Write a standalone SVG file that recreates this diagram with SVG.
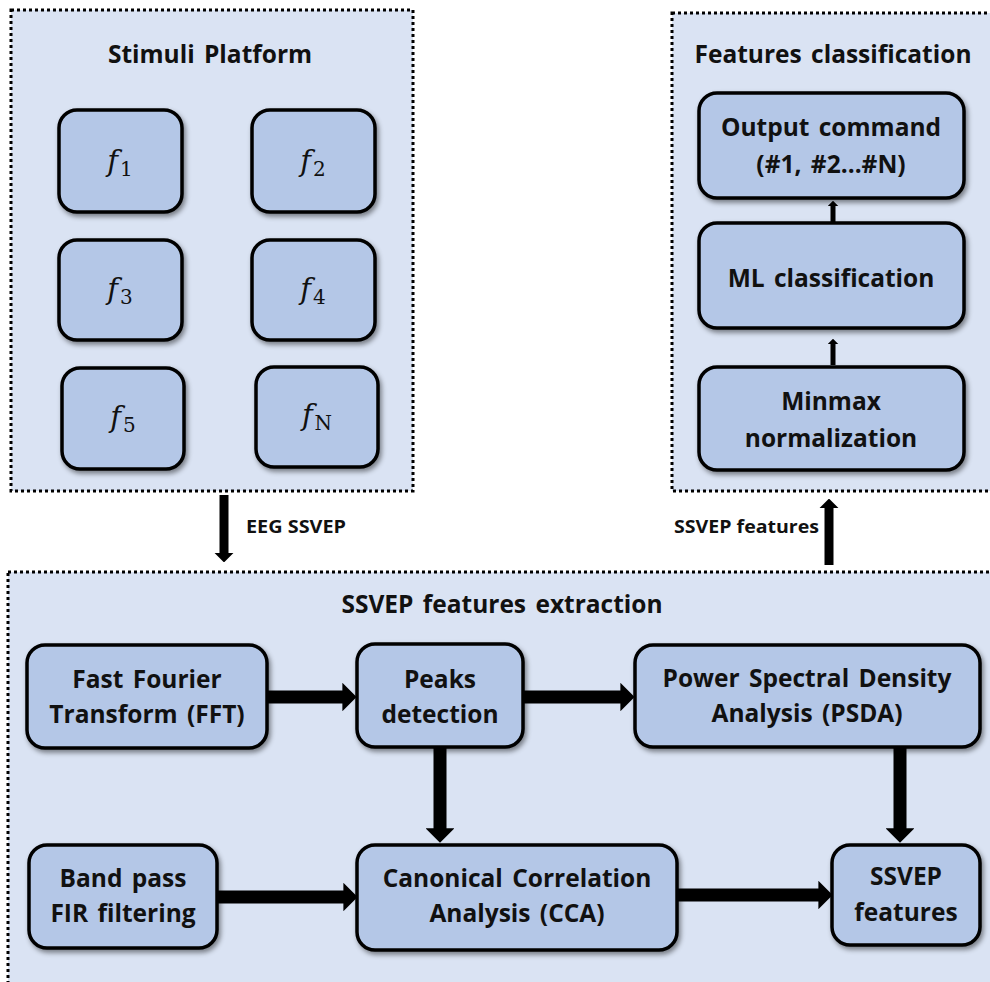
<svg xmlns="http://www.w3.org/2000/svg" width="990" height="982" viewBox="0 0 990 982">
<style>
.panel{fill:#dae3f3;stroke:#000;stroke-width:3;stroke-dasharray:3 3}
.box{fill:#b4c7e7;stroke:#000;stroke-width:3.5;filter:url(#sh)}
.t{font-family:"Open Sans","Noto Sans","Liberation Sans",sans-serif;font-weight:bold;font-size:24.5px;fill:#111;text-anchor:middle;word-spacing:3px}
.lbl{font-family:"Open Sans","Liberation Sans",sans-serif;font-weight:bold;font-size:17px;fill:#111}
.fm{font-family:"DejaVu Serif","Liberation Serif",serif;font-size:29px;fill:#111;text-anchor:middle}
.fs{font-style:normal;font-size:20px}
.c{fill:none;stroke:#000;marker-end:url(#ah)}
</style>
<defs>
<filter id="sh" x="-10%" y="-10%" width="125%" height="130%">
<feDropShadow dx="2" dy="3" stdDeviation="2.5" flood-color="#000" flood-opacity="0.45"/>
</filter>
<marker id="ah" viewBox="0 0 11 22" markerUnits="strokeWidth" markerWidth="1.1" markerHeight="2.2" refX="0.5" refY="11" orient="auto">
<path d="M0,0 L11,11 L0,22 z" fill="#000"/>
</marker>
</defs>

<g id="stimuli-platform">
<rect class="panel" x="11" y="10" width="402" height="481"/>
<text class="t" x="210" y="63">Stimuli Platform</text>
</g>
<g id="features-classification">
<rect class="panel" x="672" y="13" width="330" height="478"/>
<text class="t" x="833" y="63">Features classification</text>
</g>
<g id="ssvep-extraction">
<rect class="panel" x="8" y="572" width="995" height="420"/>
<text class="t" x="502" y="613">SSVEP features extraction</text>
</g>

<g id="f1"><rect class="box" x="59" y="110" width="123" height="102" rx="18"/>
<text class="fm" x="120" y="171"><tspan font-style="italic">f</tspan><tspan class="fs" dx="2" dy="5">1</tspan></text></g>
<g id="f2"><rect class="box" x="252" y="110" width="123" height="102" rx="18"/>
<text class="fm" x="313" y="171"><tspan font-style="italic">f</tspan><tspan class="fs" dx="2" dy="5">2</tspan></text></g>
<g id="f3"><rect class="box" x="59" y="240" width="123" height="100" rx="18"/>
<text class="fm" x="120" y="299"><tspan font-style="italic">f</tspan><tspan class="fs" dx="2" dy="5">3</tspan></text></g>
<g id="f4"><rect class="box" x="252" y="240" width="123" height="100" rx="18"/>
<text class="fm" x="313" y="299"><tspan font-style="italic">f</tspan><tspan class="fs" dx="2" dy="5">4</tspan></text></g>
<g id="f5"><rect class="box" x="62" y="368" width="122" height="101" rx="18"/>
<text class="fm" x="123" y="427"><tspan font-style="italic">f</tspan><tspan class="fs" dx="2" dy="5">5</tspan></text></g>
<g id="fN"><rect class="box" x="256" y="367" width="122" height="100" rx="18"/>
<text class="fm" x="317" y="425"><tspan font-style="italic">f</tspan><tspan class="fs" font-style="italic" dx="2" dy="5">N</tspan></text></g>

<g id="output-command"><rect class="box" x="699" y="93" width="265" height="105" rx="18"/>
<text class="t" x="831" y="136">Output command</text>
<text class="t" x="831" y="173">(#1, #2…#N)</text></g>
<g id="ml-classification"><rect class="box" x="699" y="223" width="265" height="105" rx="18"/>
<text class="t" x="831" y="287">ML classification</text></g>
<g id="minmax"><rect class="box" x="699" y="367" width="265" height="103" rx="18"/>
<text class="t" x="831" y="410">Minmax</text>
<text class="t" x="831" y="447">normalization</text></g>

<g id="fft"><rect class="box" x="27" y="645" width="240" height="103" rx="18"/>
<text class="t" x="147" y="688">Fast Fourier</text>
<text class="t" x="147" y="723">Transform (FFT)</text></g>
<g id="peaks"><rect class="box" x="357" y="644" width="166" height="103" rx="18"/>
<text class="t" x="440" y="688">Peaks</text>
<text class="t" x="440" y="723">detection</text></g>
<g id="psda"><rect class="box" x="635" y="645" width="345" height="102" rx="18"/>
<text class="t" x="807" y="687">Power Spectral Density</text>
<text class="t" x="807" y="722">Analysis (PSDA)</text></g>
<g id="bandpass"><rect class="box" x="29" y="845" width="188" height="103" rx="18"/>
<text class="t" x="123" y="887">Band pass</text>
<text class="t" x="123" y="922">FIR filtering</text></g>
<g id="cca"><rect class="box" x="357" y="845" width="320" height="105" rx="18"/>
<text class="t" x="517" y="887">Canonical Correlation</text>
<text class="t" x="517" y="922">Analysis (CCA)</text></g>
<g id="ssvep-features"><rect class="box" x="832" y="845" width="148" height="100" rx="18"/>
<text class="t" x="906" y="885">SSVEP</text>
<text class="t" x="906" y="921">features</text></g>

<g id="connectors">
<path class="c" stroke-width="9" d="M224,495 V553"/>
<text class="lbl" x="246" y="533" textLength="100" lengthAdjust="spacingAndGlyphs">EEG SSVEP</text>
<path class="c" stroke-width="9" d="M829,565 V508"/>
<text class="lbl" x="674" y="533" textLength="145" lengthAdjust="spacingAndGlyphs">SSVEP features</text>
<path class="c" stroke-width="5" d="M833,365 V344"/>
<path class="c" stroke-width="5" d="M833,223 V206"/>
<path class="c" stroke-width="13" d="M267,697 H343"/>
<path class="c" stroke-width="13" d="M523,697 H621"/>
<path class="c" stroke-width="13" d="M440,747 V829"/>
<path class="c" stroke-width="13" d="M900,747 V829"/>
<path class="c" stroke-width="13" d="M217,897 H344"/>
<path class="c" stroke-width="13" d="M677,895 H819"/>
</g>
</svg>
